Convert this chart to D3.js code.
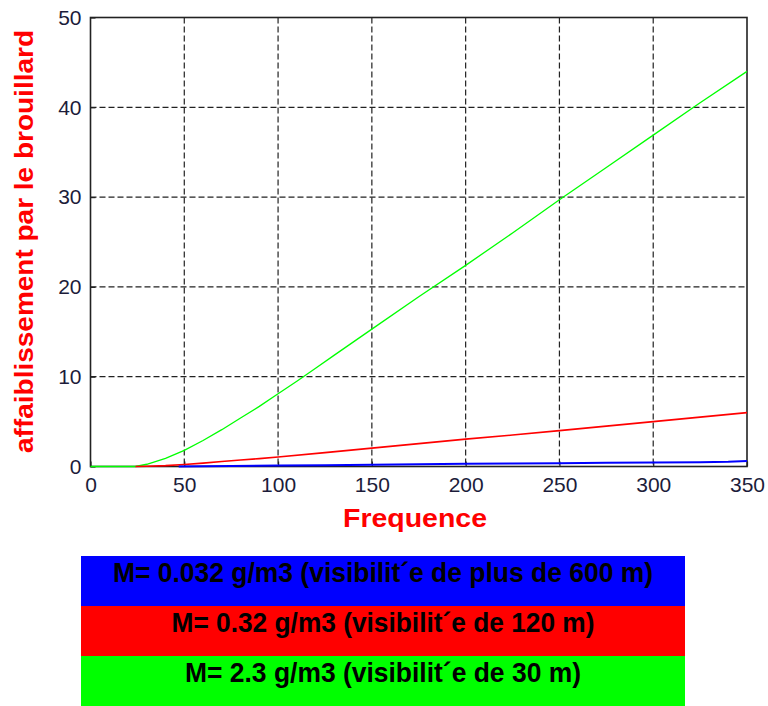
<!DOCTYPE html>
<html>
<head>
<meta charset="utf-8">
<script src="https://cdn.jsdelivr.net/npm/d3@7"></script>
<style>
  html, body { margin: 0; padding: 0; background: #fff; }
  svg { display: block; }
</style>
</head>
<body>
<svg id="chart" width="768" height="706"></svg>
<script>
// Fog attenuation versus frequency, for three liquid water contents
const xTicks = [0, 50, 100, 150, 200, 250, 300, 350];
const yTicks = [0, 10, 20, 30, 40, 50];

const freqGreen = [0, 24, 30, 40, 50, 60, 70, 80, 90, 100, 110, 120, 130, 140, 150, 175, 200, 225, 250, 275, 300, 325, 350];
const attGreen  = [0, 0, 0.25, 0.9, 1.8, 2.9, 4.1, 5.4, 6.7, 8.1, 9.5, 10.95, 12.4, 13.85, 15.3, 18.9, 22.4, 26.0, 29.7, 33.3, 36.9, 40.5, 44.0];

const freqRed = [24, 30, 40, 50, 60, 70, 80, 90, 100, 125, 150, 175, 200, 225, 250, 275, 300, 325, 350];
const attRed  = [0, 0.03, 0.1, 0.22, 0.38, 0.55, 0.72, 0.88, 1.05, 1.55, 2.05, 2.55, 3.05, 3.5, 4.0, 4.5, 5.0, 5.5, 6.0];

const freqBlue = [47, 75, 100, 125, 150, 175, 200, 225, 250, 275, 300, 325, 340, 350];
const attBlue  = [0, 0.05, 0.1, 0.15, 0.2, 0.25, 0.3, 0.33, 0.37, 0.41, 0.45, 0.48, 0.52, 0.62];

const legendLabels = [
  "M= 0.032 g/m3 (visibilit\u00B4e de plus de 600 m)",
  "M= 0.32 g/m3 (visibilit\u00B4e de 120 m)",
  "M= 2.3 g/m3 (visibilit\u00B4e de 30 m)"
];
const legendColors = ["#0000ff", "#ff0000", "#00ff00"];

const svg = d3.select("#chart");
const plotL = 90.5, plotR = 747, plotT = 17.5, plotB = 466.5;

const x = d3.scaleLinear().domain([0, 350]).range([plotL, plotR]);
const y = d3.scaleLinear().domain([0, 50]).range([plotB, plotT]);

// dashed grid
const grid = svg.append("g").attr("stroke", "#222").attr("stroke-width", 1.2)
  .attr("stroke-dasharray", "6,3");
grid.selectAll(".vx").data(xTicks.filter(d => d > 0 && d < 350)).join("line")
  .attr("class", "vx")
  .attr("x1", d => x(d)).attr("x2", d => x(d)).attr("y1", plotT).attr("y2", plotB);
grid.selectAll(".hy").data(yTicks.filter(d => d > 0)).join("line")
  .attr("class", "hy")
  .attr("x1", plotL).attr("x2", plotR).attr("y1", d => y(d)).attr("y2", d => y(d));

// frame
svg.append("rect")
  .attr("x", plotL).attr("y", plotT)
  .attr("width", plotR - plotL).attr("height", plotB - plotT)
  .attr("fill", "none").attr("stroke", "#222").attr("stroke-width", 1.6);

// axes with inward ticks
const fontTicks = "'Liberation Sans', Arial, sans-serif";
const xAxis = svg.append("g").attr("transform", `translate(0,${plotB})`)
  .call(d3.axisBottom(x).tickValues(xTicks).tickSize(-5).tickPadding(10).tickFormat(d3.format("d")));
const yAxis = svg.append("g").attr("transform", `translate(${plotL},0)`)
  .call(d3.axisLeft(y).tickValues(yTicks).tickSize(-5).tickPadding(9).tickFormat(d3.format("d")));
[xAxis, yAxis].forEach(g => {
  g.select(".domain").remove();
  g.selectAll(".tick line").attr("stroke", "#222").attr("stroke-width", 1.2);
  g.selectAll(".tick text").attr("fill", "#1c1c3a")
    .style("font-family", fontTicks).style("font-size", "21px");
});
xAxis.selectAll(".tick text").attr("dy", "0.72em");

// curves, drawn over the axes
const series = [
  { f: freqGreen, a: attGreen, color: "#00ff00", w: 1.3 },
  { f: freqRed, a: attRed, color: "#ff0000", w: 1.6 },
  { f: freqBlue, a: attBlue, color: "#0000ff", w: 2 }
];
const line = d3.line().x(d => x(d[0])).y(d => y(d[1]));
series.forEach(s => {
  svg.append("path")
    .datum(s.f.map((f, i) => [f, s.a[i]]))
    .attr("fill", "none")
    .attr("stroke", s.color)
    .attr("stroke-width", s.w)
    .attr("d", line);
});

// axis titles
svg.append("text")
  .attr("x", 415).attr("y", 527)
  .attr("text-anchor", "middle")
  .attr("fill", "#ff0000")
  .attr("textLength", 144)
  .attr("lengthAdjust", "spacingAndGlyphs")
  .style("font-family", "'Liberation Sans', Arial, sans-serif")
  .style("font-weight", "bold").style("font-size", "25px")
  .text("Frequence");

svg.append("text")
  .attr("transform", "translate(33,241.5) rotate(-90)")
  .attr("text-anchor", "middle")
  .attr("fill", "#ff0000")
  .attr("textLength", 423)
  .attr("lengthAdjust", "spacingAndGlyphs")
  .style("font-family", "'Liberation Sans', Arial, sans-serif")
  .style("font-weight", "bold").style("font-size", "26px")
  .text("affaiblissement par le brouillard");

// legend bands
const legX = 81, legW = 604, legTop = 556, rowH = 50;
const widths = [540, 423, 396];
const leg = svg.append("g");
legendLabels.forEach((label, i) => {
  leg.append("rect")
    .attr("x", legX).attr("y", legTop + i * rowH)
    .attr("width", legW).attr("height", rowH)
    .attr("fill", legendColors[i]);
  leg.append("text")
    .attr("x", 383).attr("y", legTop + i * rowH + 26)
    .attr("text-anchor", "middle")
    .attr("fill", "#000")
    .attr("textLength", widths[i])
    .attr("lengthAdjust", "spacingAndGlyphs")
    .style("font-family", "'Liberation Sans Narrow', 'Arial Narrow', 'Liberation Sans', sans-serif")
    .style("font-weight", "bold").style("font-size", "27px")
    .text(label);
});
</script>
</body>
</html>
